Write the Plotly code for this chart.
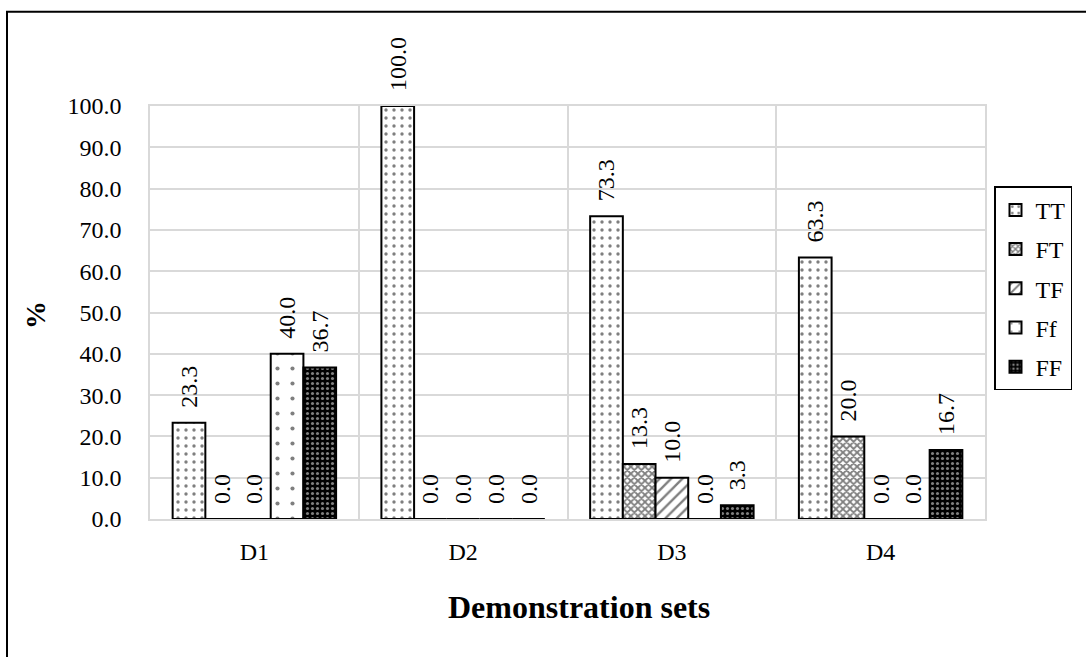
import plotly.graph_objects as go

categories = ["D1", "D2", "D3", "D4"]
series_names = ["TT", "FT", "TF", "Ff", "FF"]
tt = [23.3, 100.0, 73.3, 63.3]
ft = [0.0, 0.0, 13.3, 20.0]
tf = [0.0, 0.0, 10.0, 0.0]
ff_small = [40.0, 0.0, 0.0, 0.0]
ff = [36.7, 0.0, 3.3, 16.7]
y_ticks = [0, 10, 20, 30, 40, 50, 60, 70, 80, 90, 100]

values = [tt, ft, tf, ff_small, ff]
patterns = [
    dict(shape=".", fgcolor="black", bgcolor="white", size=8, solidity=0.14),
    dict(shape="x", fgcolor="black", bgcolor="white", size=5, solidity=0.6),
    dict(shape="/", fgcolor="black", bgcolor="white", size=8, solidity=0.3),
    dict(shape=".", fgcolor="black", bgcolor="white", size=15, solidity=0.06),
    dict(shape=".", fgcolor="white", bgcolor="black", size=5, solidity=0.3),
]

FONT = "Times New Roman, Liberation Serif, serif"
W, H = 1086, 657
L, R, T, B = 150, 101, 105.5, 137.5
pw, ph = W - L - R, H - T - B

fig = go.Figure()
for name, vals, pat in zip(series_names, values, patterns):
    fig.add_trace(go.Bar(
        name=name, x=categories, y=vals, legendgroup=name,
        marker=dict(color="white", line=dict(color="black", width=2), pattern=pat),
        texttemplate="\u00a0\u00a0%{y:.1f}", textposition="outside", textangle=-90,
        textfont=dict(family=FONT, size=24, color="black"),
        constraintext="none", cliponaxis=False,
    ))

fig.update_layout(
    width=W, height=H,
    margin=dict(l=L, r=R, t=T, b=B, autoexpand=False),
    paper_bgcolor="white", plot_bgcolor="white",
    barmode="group", bargap=0.217, bargroupgap=0,
    font=dict(family=FONT, size=24, color="black"),
    showlegend=True,
    legend=dict(
        x=(994 - L) / pw, y=(H - B - 186) / ph, xanchor="left", yanchor="top",
        bordercolor="black", borderwidth=1.5, bgcolor="white",
        font=dict(family=FONT, size=24, color="black"),
        traceorder="grouped", itemwidth=30, tracegroupgap=5,
    ),
    xaxis=dict(
        type="category", tickson="boundaries", showgrid=True, gridcolor="#d9d9d9", gridwidth=1.5,
        showline=True, linecolor="#d9d9d9", linewidth=1.5, mirror=True,
        ticks="", ticklabelstandoff=10,
        tickfont=dict(family=FONT, size=24, color="black"),
    ),
    yaxis=dict(
        range=[0, 100], tickvals=y_ticks, tickformat=".1f",
        showgrid=True, gridcolor="#d9d9d9", gridwidth=1.5,
        showline=True, linecolor="#d9d9d9", linewidth=1.5, mirror=True,
        ticks="", ticklabelstandoff=22, zeroline=False,
        tickfont=dict(family=FONT, size=24, color="black"),
    ),
    annotations=[
        dict(text="<b>Demonstration sets</b>", xref="paper", yref="paper",
             x=(579 - L) / pw, y=(H - B - 608) / ph, xanchor="center", yanchor="middle",
             showarrow=False, font=dict(family=FONT, size=32, color="black")),
        dict(text="<b>%</b>", xref="paper", yref="paper", textangle=-90,
             x=(36 - L) / pw, y=(H - B - 315) / ph, xanchor="center", yanchor="middle",
             showarrow=False, font=dict(family=FONT, size=28, color="black")),
    ],
    shapes=[dict(
        type="rect", xref="paper", yref="paper",
        x0=(7 - L) / pw, x1=(W + 5 - L) / pw,
        y0=(H - B - (H + 5)) / ph, y1=(H - B - 11) / ph,
        line=dict(color="black", width=2), fillcolor="rgba(0,0,0,0)", layer="below",
    )],
)

fig.write_html("out.html")
